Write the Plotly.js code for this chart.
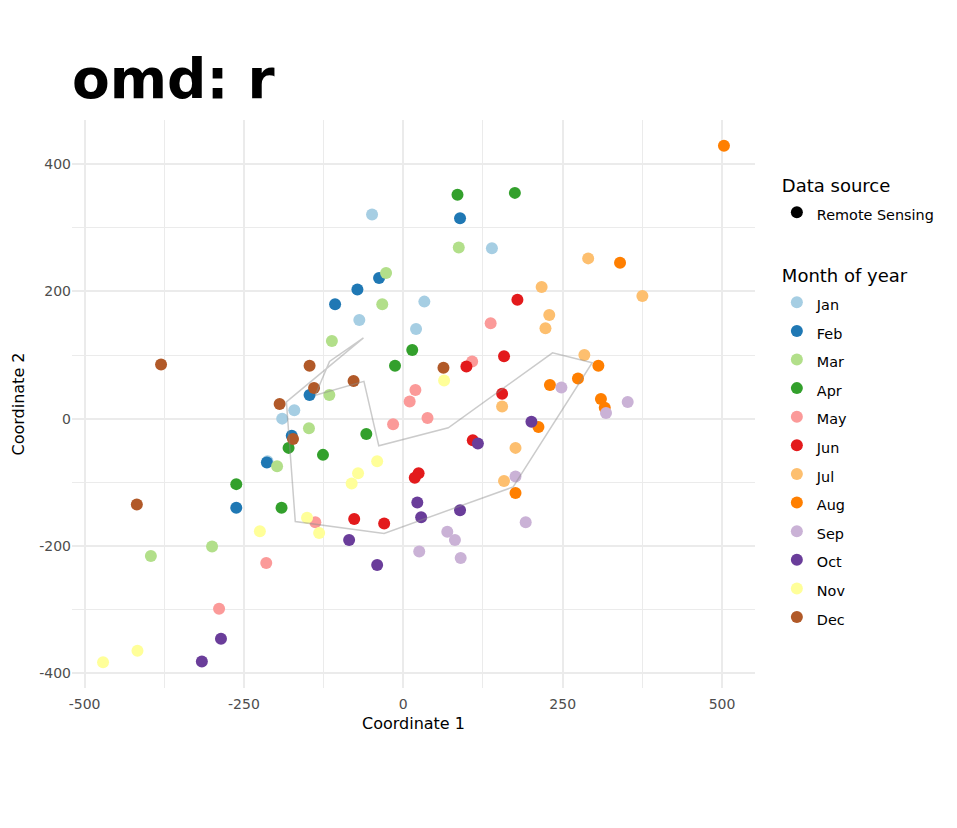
<!DOCTYPE html>
<html><head><meta charset="utf-8">
<script src="https://cdn.plot.ly/plotly-3.0.1.min.js"></script>
<style>html,body{margin:0;padding:0;background:#fff}</style>
</head><body>
<div id="chart" style="width:957px;height:828px"></div>
<script>
const months = ["Jan","Feb","Mar","Apr","May","Jun","Jul","Aug","Sep","Oct","Nov","Dec"];
const monthColors = ["#A6CEE3","#1F78B4","#B2DF8A","#33A02C","#FB9A99","#E31A1C","#FDBF6F","#FF7F00","#CAB2D6","#6A3D9A","#FFFF99","#B15928"];

const janX = [-49, 139, 33, -69, 20, -171, -190, -213];
const janY = [321, 268, 184, 155, 141, 13, 0, -67];
const febX = [89, -38, -72, -107, -147, -175, -214, -262];
const febY = [315, 221, 203, 180, 37, -27, -69, -140];
const marX = [87, -27, -33, -112, -116, -148, -198, -300, -396];
const marY = [269, 229, 180, 122, 37, -15, -75, -201, -216];
const aprX = [85, 175, 14, -13, -58, -126, -180, -262, -191];
const aprY = [352, 355, 108, 83, -24, -57, -46, -103, -140];
const mayX = [137, 108, 19, 10, -16, 38, -215, -289, -138];
const mayY = [150, 90, 45, 27, -9, 1, -227, -299, -163];
const junX = [179, 158, 99, 155, 109, 24, 18, -77, -30];
const junY = [187, 98, 82, 39, -34, -86, -93, -158, -165];
const julX = [290, 217, 375, 229, 223, 284, 155, 176, 158];
const julY = [252, 207, 193, 163, 142, 100, 19, -46, -98];
const augX = [503, 340, 306, 274, 230, 310, 316, 212, 176];
const augY = [429, 245, 83, 63, 53, 31, 17, -13, -117];
const sepX = [248, 318, 352, 176, 69, 81, 25, 90, 192];
const sepY = [49, 9, 26, -91, -178, -191, -209, -219, -163];
const octX = [201, 117, 22, 28, 89, -85, -41, -286, -316];
const octY = [-5, -39, -132, -155, -144, -191, -230, -346, -382];
const novX = [64, -41, -71, -81, -225, -417, -471, -151, -132];
const novY = [60, -67, -86, -102, -177, -365, -383, -156, -180];
const decX = [-380, -194, -173, -147, 63, -78, -140, -418];
const decY = [85, 23, -32, 83, 80, 59, 48, -135];

const xTickVals = [-500, -250, 0, 250, 500];
const xTickText = ["-500", "-250", "0", "250", "500"];
const xMinorVals = [-375, -125, 125, 375];
const yTickVals = [-400, -200, 0, 200, 400];
const yTickText = ["-400", "-200", "0", "200", "400"];
const yMinorVals = [-300, -100, 100, 300];

const allX = [janX,febX,marX,aprX,mayX,junX,julX,augX,sepX,octX,novX,decX];
const allY = [janY,febY,marY,aprY,mayY,junY,julY,augY,sepY,octY,novY,decY];

const mean = a => a.reduce((s,v)=>s+v,0)/a.length;
const flatX = allX.flat(), flatY = allY.flat();
function expand(arr){const mn=Math.min(...arr), mx=Math.max(...arr), d=(mx-mn)*0.05; return [mn-d, mx+d];}

const itemFont = 'font-size:14.4px';
const traces = [];
traces.push({
  x:[null], y:[null], type:'scatter', mode:'markers', name:'<span style="'+itemFont+'">Remote Sensing</span>',
  marker:{color:'#000000', size:12}, legendgroup:'src',
  legendgrouptitle:{text:'Data source', font:{size:18, color:'#000'}}, hoverinfo:'skip'
});
months.forEach((m,i)=>{
  traces.push({
    x: allX[i], y: allY[i], type:'scatter', mode:'markers',
    name:'<span style="'+itemFont+'">'+m+'</span>',
    marker:{color:monthColors[i], size:12, line:{width:0}},
    legendgroup:'month',
    legendgrouptitle: i===0 ? {text:'Month of year', font:{size:18, color:'#000'}} : undefined
  });
});
// path through the monthly means (closed loop)
const cx = allX.map(mean), cy = allY.map(mean);
traces.push({
  x: cx.concat([cx[0]]), y: cy.concat([cy[0]]), type:'scatter', mode:'lines',
  line:{color:'rgba(140,140,140,0.45)', width:1.5}, showlegend:false, hoverinfo:'skip'
});

const gridCol = '#EBEBEB';
const layout = {
  width:957, height:828,
  margin:{l:72, r:202, t:120, b:140},
  paper_bgcolor:'#fff', plot_bgcolor:'#fff',
  font:{family:'DejaVu Sans', color:'#000'},
  title:{text:'<b>omd: r</b>', x:0, xref:'paper', xanchor:'left', y:1, yref:'container', yanchor:'top',
         pad:{t:59}, font:{size:55, family:'DejaVu Sans', color:'#000'}},
  xaxis:{range:expand(flatX), tickmode:'array', tickvals:xTickVals, ticktext:xTickText,
         showgrid:true, gridcolor:gridCol, gridwidth:2, zeroline:false, showline:false, ticks:'',
         tickfont:{size:14, color:'#4D4D4D'}, ticklabelstandoff:6,
         minor:{tickmode:'array', tickvals:xMinorVals, showgrid:true, gridcolor:gridCol, gridwidth:1, ticks:''},
         title:{text:'Coordinate 1', font:{size:16, color:'#000'}, standoff:6}},
  yaxis:{range:expand(flatY), tickmode:'array', tickvals:yTickVals, ticktext:yTickText,
         showgrid:true, gridcolor:gridCol, gridwidth:2, zeroline:false, showline:false, ticks:'',
         tickfont:{size:14, color:'#4D4D4D'},
         minor:{tickmode:'array', tickvals:yMinorVals, showgrid:true, gridcolor:gridCol, gridwidth:1, ticks:''},
         title:{text:'Coordinate 2', font:{size:16, color:'#000'}, standoff:10}},
  legend:{x:1.032, xanchor:'left', y:0.918, yanchor:'top', traceorder:'grouped', tracegroupgap:35,
          font:{size:19.7, color:'#000'}, itemsizing:'constant', bgcolor:'rgba(0,0,0,0)'},
  showlegend:true
};
Plotly.newPlot('chart', traces, layout, {displayModeBar:false});
</script>
</body></html>
